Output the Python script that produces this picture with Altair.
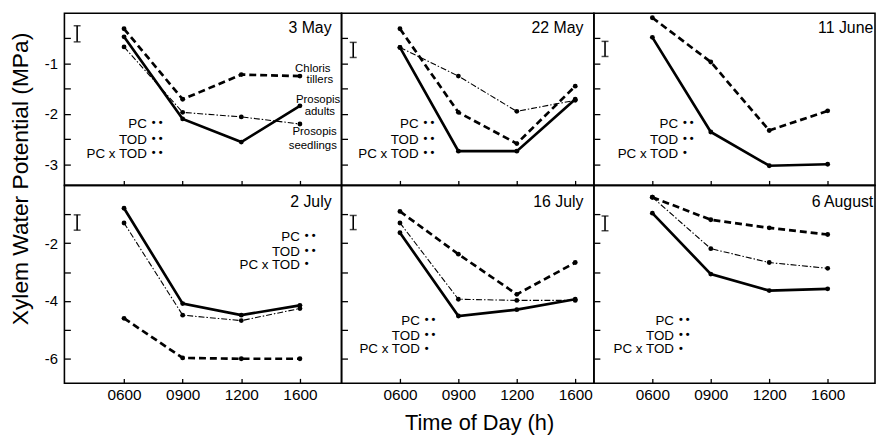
import json
import altair as alt
import pandas as pd

FONT = "Liberation Sans"

# ---------------- data ----------------
times = ["0600", "0900", "1200", "1600"]
time_pos = [1, 2, 3, 4]
dates = ["3 May", "22 May", "11 June", "2 July", "16 July", "6 August"]
series_names = ["Chloris tillers", "Prosopis adults", "Prosopis seedlings"]

chloris_3may = [-0.31, -1.71, -1.22, -1.25]
adults_3may = [-0.47, -2.10, -2.56, -1.84]
seedlings_3may = [-0.67, -1.97, -2.06, -2.20]

chloris_22may = [-0.31, -1.97, -2.59, -1.45]
adults_22may = [-0.68, -2.74, -2.74, -1.71]
seedlings_22may = [-0.68, -1.25, -1.95, -1.73]

chloris_11jun = [-0.09, -0.97, -2.33, -1.94]
adults_11jun = [-0.48, -2.36, -3.03, -3.00]

chloris_2jul = [-4.60, -5.97, -6.00, -6.00]
adults_2jul = [-0.79, -4.09, -4.49, -4.15]
seedlings_2jul = [-1.30, -4.49, -4.68, -4.26]

chloris_16jul = [-0.90, -2.38, -3.77, -2.67]
adults_16jul = [-1.64, -4.52, -4.30, -3.94]
seedlings_16jul = [-1.30, -3.94, -3.98, -3.98]

chloris_6aug = [-0.41, -1.19, -1.47, -1.70]
adults_6aug = [-0.96, -3.07, -3.64, -3.58]
seedlings_6aug = [-0.41, -2.19, -2.67, -2.87]

panel_series = [
    [chloris_3may, adults_3may, seedlings_3may],
    [chloris_22may, adults_22may, seedlings_22may],
    [chloris_11jun, adults_11jun, None],
    [chloris_2jul, adults_2jul, seedlings_2jul],
    [chloris_16jul, adults_16jul, seedlings_16jul],
    [chloris_6aug, adults_6aug, seedlings_6aug],
]

# error-bar (LSD) glyph in each panel
err_x = [0.20, 0.20, 0.19, 0.20, 0.20, 0.19]
err_lo = [-0.57, -0.88, -0.86, -1.55, -1.53, -1.57]
err_hi = [-0.25, -0.58, -0.56, -1.02, -1.04, -1.06]

# significance annotations
stat_labels = ["PC", "TOD", "PC x TOD"]
stat_x = [1.39, 1.32, 1.44, 4.0, 1.34, 1.37]
stat_y_top = [-2.20, -2.51, -2.80]
stat_y_2jul = [-1.78, -2.29, -2.77]
stat_y_bottom = [-4.68, -5.20, -5.68]
stat_y = [stat_y_top, stat_y_top, stat_y_top, stat_y_2jul, stat_y_bottom, stat_y_bottom]
stat_stars = [
    ["• •", "• •", "• •"],
    ["• •", "• •", "• •"],
    ["• •", "• •", "•"],
    ["• •", "• •", "•"],
    ["• •", "• •", "•"],
    ["• •", "• •", "•"],
]

# panel date labels
title_x = [4.54, 4.14, 4.78, 4.54, 4.14, 4.78]
title_y = [-0.30, -0.30, -0.30, -0.58, -0.58, -0.58]

# series labels in the 3 May panel
series_label_text = ["Chloris", "tillers", "Prosopis", "adults", "Prosopis", "seedlings"]
series_label_x = [4.22, 4.34, 4.31, 4.34, 4.25, 4.22]
series_label_y = [-1.10, -1.33, -1.73, -1.96, -2.37, -2.63]

# axes
y_ticks_top = [-3, -2.5, -2, -1.5, -1, -0.5]
y_labels_top = [-1, -2, -3]
y_ticks_bottom = [-6, -5, -4, -3, -2, -1]
y_labels_bottom = [-2, -4, -6]

# ---------------- layout / style ----------------
W = [280, 255, 284]
H = [174, 200]
XDOM = [[-0.017, 4.71], [0.0, 4.32], [0.0, 4.81]]
YDOM = [[-3.42, 0.0], [-6.85, 0.0]]
YTICKS = [y_ticks_top, y_ticks_bottom]
YLABS = [y_labels_top, y_labels_bottom]

LINE_STYLE = {
    "Chloris tillers": dict(strokeWidth=2.7, strokeDash=[7, 4]),
    "Prosopis adults": dict(strokeWidth=2.7),
    "Prosopis seedlings": dict(strokeWidth=1.1, strokeDash=[6, 2, 1.5, 2]),
}

x_label_expr = f"{json.dumps(times)}[datum.value - 1]"


def y_label_expr(labs):
    return f"indexof({json.dumps(labs)}, datum.value) >= 0 ? '' + datum.value : ''"


def build_panel(i):
    row, col = divmod(i, 3)
    xs = alt.Scale(domain=XDOM[col], nice=False, zero=False)
    ys = alt.Scale(domain=YDOM[row], nice=False, zero=False)

    xk = dict(values=time_pos, offset=-5, tickSize=5, domain=False, grid=False,
              labels=(row == 1))
    if row == 1:
        xk.update(labelExpr=x_label_expr, labelPadding=4, labelFontSize=15.5)
    if i == 4:
        xk.update(titleX=139, titlePadding=10, titleFontSize=22)
    xax = alt.Axis(**xk)

    yk = dict(values=YTICKS[row], offset=-6, tickSize=6, domain=False, grid=False,
              labels=(col == 0))
    if col == 0:
        yk.update(labelExpr=y_label_expr(YLABS[row]), labelPadding=7, labelFontSize=15)
    if i == 0:
        yk.update(titleY=167, titlePadding=12, titleFontSize=23)
    yax = alt.Axis(**yk)

    xtitle = "Time of Day (h)" if i == 4 else None
    ytitle = "Xylem Water Potential (MPa)" if i == 0 else None

    def X(f):
        return alt.X(f"{f}:Q", scale=xs, axis=xax, title=xtitle)

    def Y(f):
        return alt.Y(f"{f}:Q", scale=ys, axis=yax, title=ytitle)

    layers = []
    for name, vals in zip(series_names, panel_series[i]):
        if vals is None:
            continue
        df = pd.DataFrame({"t": time_pos, "v": vals})
        layers.append(alt.Chart(df).mark_line(color="black", **LINE_STYLE[name])
                      .encode(x=X("t"), y=Y("v")))
        layers.append(alt.Chart(df).mark_circle(color="black", size=24, opacity=1)
                      .encode(x=X("t"), y=Y("v")))

    edf = pd.DataFrame({"x": [err_x[i]], "lo": [err_lo[i]], "hi": [err_hi[i]]})
    layers.append(alt.Chart(edf).mark_rule(color="black", strokeWidth=1.6)
                  .encode(x=X("x"), y=Y("lo"), y2="hi"))
    layers.append(alt.Chart(edf).mark_tick(color="black", orient="horizontal", size=7, thickness=1.5)
                  .encode(x=X("x"), y=Y("lo")))
    layers.append(alt.Chart(edf).mark_tick(color="black", orient="horizontal", size=7, thickness=1.5)
                  .encode(x=X("x"), y=Y("hi")))

    sdf = pd.DataFrame({"x": [stat_x[i]] * 3, "y": stat_y[i], "lab": stat_labels,
                        "star": stat_stars[i]})
    layers.append(alt.Chart(sdf).mark_text(align="right", baseline="middle", font=FONT,
                                           fontSize=13.5, color="black")
                  .encode(x=X("x"), y=Y("y"), text="lab:N"))
    layers.append(alt.Chart(sdf).mark_text(align="left", baseline="middle", font=FONT,
                                           fontSize=11, fontWeight="bold", color="black",
                                           dx=5, dy=-1)
                  .encode(x=X("x"), y=Y("y"), text="star:N"))

    tdf = pd.DataFrame({"x": [title_x[i]], "y": [title_y[i]], "d": [dates[i]]})
    layers.append(alt.Chart(tdf).mark_text(align="right", baseline="middle", font=FONT,
                                           fontSize=16, color="black")
                  .encode(x=X("x"), y=Y("y"), text="d:N"))

    if i == 0:
        ldf = pd.DataFrame({"x": series_label_x, "y": series_label_y, "t": series_label_text})
        layers.append(alt.Chart(ldf).mark_text(align="center", baseline="middle", font=FONT,
                                               fontSize=11.5, color="black")
                      .encode(x=X("x"), y=Y("y"), text="t:N"))

    return alt.layer(*layers).properties(width=W[col], height=H[row])


panels = [build_panel(i) for i in range(6)]

chart = alt.concat(*panels, columns=3, spacing=0, bounds="flush").properties(
    padding={"left": 0, "top": 1, "right": 0, "bottom": 0},
    background="white",
).configure_view(
    stroke="black", strokeWidth=1.6
).configure_axis(
    labelFont=FONT, titleFont=FONT, labelColor="black", titleColor="black",
    tickColor="black", tickWidth=1.3, titleFontWeight="normal",
)

chart.save("out.html", embed_options={"renderer": "svg", "actions": False})
